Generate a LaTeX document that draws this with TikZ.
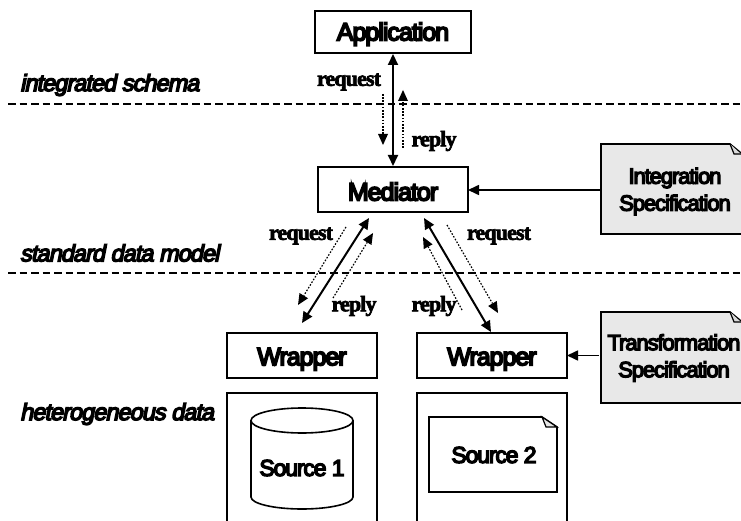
\documentclass[tikz,border=0pt]{standalone}
\usepackage{fontspec}
\usetikzlibrary{arrows.meta}
\newfontfamily\boxfont[FakeBold=7,LetterSpace=-4]{Liberation Sans}
\newfontfamily\specfont[FakeBold=6,LetterSpace=-5]{Liberation Sans}
\newfontfamily\capfontit[FakeBold=6,LetterSpace=-4,FakeSlant=0.2]{Liberation Sans}
\newfontfamily\msgfont[LetterSpace=-4,FakeBold=3]{Liberation Serif Bold}
\tikzset{
  x=1pt,y=-1pt,
  boxn/.style={draw=black,line width=1.6pt,fill=white,inner sep=0pt,outer sep=0pt,font=\fontsize{25}{26}\selectfont\boxfont,text=black,text height=19.5pt,text depth=0pt},
  plain/.style={inner sep=0pt,outer sep=0pt},
  spectext/.style={plain,align=center,font=\fontsize{22}{27}\selectfont\specfont},
  srctext/.style={plain,font=\fontsize{23}{26}\selectfont\specfont},
  layer/.style={plain,anchor=west,font=\fontsize{23.5}{24}\selectfont\capfontit},
  msg/.style={plain,font=\fontsize{22}{24}\selectfont\msgfont},
  boundary/.style={line width=2.6pt,dash pattern=on 7.5pt off 4pt},
  solidarrow/.style={line width=2pt,{Triangle[length=11pt,width=10pt]}-{Triangle[length=11pt,width=10pt]},shorten >=0pt,shorten <=0pt},
  dotarrow/.style={line width=1.2pt,dash pattern=on 1.6pt off 1.6pt,-{Triangle[length=11pt,width=10pt,line width=0pt,sep=0pt]}},
  onearrow/.style={line width=1.6pt,-{Triangle[length=11pt,width=10pt]}},
  outline/.style={line width=1.6pt,draw=black},
}
\begin{document}
\begin{tikzpicture}
\useasboundingbox (0,0) rectangle (741,521);
\fill[white] (0,0) rectangle (741,521);
% boundaries
\coordinate (d1l) at (8,104); \coordinate (d1r) at (741,104);
\coordinate (d2l) at (8,273); \coordinate (d2r) at (741,273);
\draw[boundary] (d1l) -- (d1r);
\draw[boundary] (d2l) -- (d2r);
% layer captions
\node[layer] (l1) at (20,85) {integrated schema};
\node[layer] (l2) at (20,253) {standard data model};
\node[layer] (l3) at (20,414) {heterogeneous data};
% boxes
\node[boxn,minimum width=156pt,minimum height=42pt,text height=17pt] (app) at (393,32) {Application};
\node[boxn,minimum width=150pt,minimum height=45pt,text height=22pt] (med) at (393,189.5) {Mediator};
\node[boxn,minimum width=150pt,minimum height=45pt] (w1) at (302,355.5) {Wrapper};
\node[boxn,minimum width=150pt,minimum height=45pt] (w2) at (492,355.5) {Wrapper};
% source frames
\draw[outline] (227,521) -- (227,393) -- (377,393) -- (377,521);
\draw[outline] (417,521) -- (417,393) -- (567,393) -- (567,521);
% cylinder
\draw[outline,fill=white] (251,421) -- (251,497) arc[start angle=180,end angle=360,x radius=51,y radius=-12] -- (353,421);
\draw[outline,fill=white] (302,420.5) ellipse[x radius=51,y radius=12.5];
\node[srctext] (s1) at (302,468) {Source 1};
% source 2 note
\draw[outline,fill=white] (429,417) -- (542,417) -- (557,427) -- (557,492) -- (429,492) -- cycle;
\draw[line width=1.2pt,fill=gray!20] (542,417) -- (546,427) -- (557,427) -- cycle;
\node[srctext] (s2) at (494,455) {Source 2};
% spec notes
\fill[black!9] (741,234) -- (601,234) -- (601,144) -- (730,144) -- (741,153) -- cycle;
\draw[outline] (741,234) -- (601,234) -- (601,144) -- (730,144) -- (741,153);
\draw[line width=1.2pt,fill=gray!30] (730,144) -- (734,154) -- (741,154);
\node[spectext] (ispec) at (675,191.5) {Integration\\Specification};
\fill[black!9] (741,403) -- (601,403) -- (601,312) -- (730,312) -- (741,321) -- cycle;
\draw[outline] (741,403) -- (601,403) -- (601,312) -- (730,312) -- (741,321);
\draw[line width=1.2pt,fill=gray!30] (730,312) -- (734,322) -- (741,322);
\node[spectext] (tspec) at (674,358) {Transformation\\Specification};
% connectors
\coordinate (ia) at (601,190); \coordinate (ib) at (599,355.5);
\draw[onearrow] (ia) -- (med.east |- ia);
\draw[onearrow] (ib) -- (w2.east |- ib);
\draw[solidarrow] (app.south) ++(0,1) coordinate (a1) (a1) -- (393,166);
\coordinate (p1) at (369,218); \coordinate (p2) at (302,323);
\coordinate (p3) at (424,218); \coordinate (p4) at (491,332);
\draw[solidarrow] (p1) -- (p2);
\draw[solidarrow] (p3) -- (p4);
\coordinate (q1) at (383,94); \coordinate (q2) at (383,145);
\coordinate (q3) at (403,148); \coordinate (q4) at (403,90);
\draw[dotarrow] (q1) -- (q2);
\draw[dotarrow] (q3) -- (q4);
\coordinate (r1) at (346,227); \coordinate (r2) at (298,305);
\coordinate (r3) at (333,298); \coordinate (r4) at (373,233);
\draw[dotarrow] (r1) -- (r2);
\draw[dotarrow] (r3) -- (r4);
\coordinate (t1) at (447,225); \coordinate (t2) at (498,313);
\coordinate (t3) at (462,310); \coordinate (t4) at (423,237);
\draw[dotarrow] (t1) -- (t2);
\draw[dotarrow] (t3) -- (t4);
% message labels
\node[msg] (m1) at (349,82) {request};
\node[msg] (m2) at (434,141) {reply};
\node[msg] (m3) at (301,236) {request};
\node[msg] (m4) at (354,306) {reply};
\node[msg] (m5) at (499,236) {request};
\node[msg] (m6) at (434,306) {reply};
\end{tikzpicture}
\end{document}
